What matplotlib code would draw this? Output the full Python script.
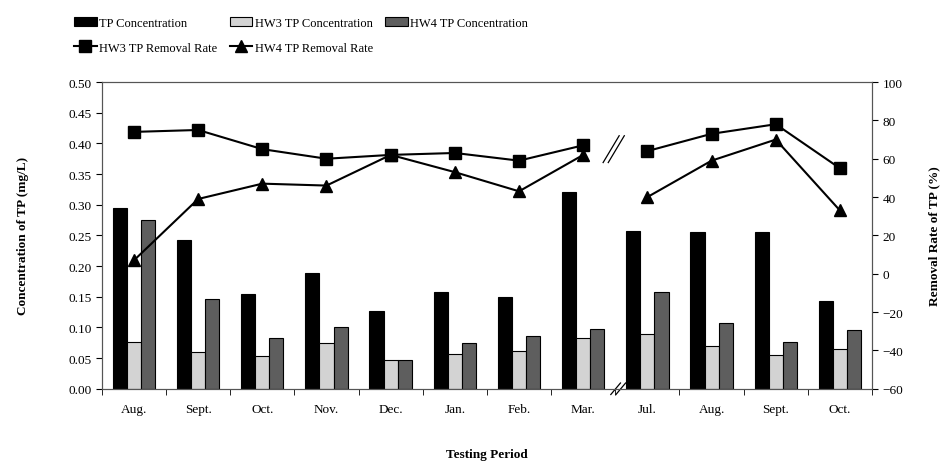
import numpy as np
import matplotlib
matplotlib.use("Agg")
import matplotlib.pyplot as plt

plt.rcParams['font.family'] = ['Liberation Serif', 'DejaVu Serif']

months = ["Aug.", "Sept.", "Oct.", "Nov.", "Dec.", "Jan.", "Feb.", "Mar.",
          "Jul.", "Aug.", "Sept.", "Oct."]
tp_conc = [0.295, 0.242, 0.155, 0.188, 0.127, 0.158, 0.150, 0.320,
           0.258, 0.255, 0.255, 0.143]
hw3_conc = [0.077, 0.060, 0.053, 0.075, 0.047, 0.057, 0.062, 0.083,
            0.090, 0.070, 0.055, 0.065]
hw4_conc = [0.275, 0.146, 0.082, 0.100, 0.047, 0.074, 0.086, 0.097,
            0.157, 0.107, 0.076, 0.095]
hw3_rate = [74, 75, 65, 60, 62, 63, 59, 67, 64, 73, 78, 55]
hw4_rate = [7, 39, 47, 46, 62, 53, 43, 62, 40, 59, 70, 33]

x = np.arange(len(months))
w = 0.22

fig = plt.figure(figsize=(9.52, 4.64), dpi=100)
ax = fig.add_axes([0.107, 0.16, 0.809, 0.661])
ax2 = ax.twinx()

b1 = ax.bar(x - w, tp_conc, w, color="black", edgecolor="black", linewidth=0.8,
            label="TP Concentration")
b2 = ax.bar(x, hw3_conc, w, color="#d3d3d3", edgecolor="black", linewidth=0.8,
            label="HW3 TP Concentration")
b3 = ax.bar(x + w, hw4_conc, w, color="#5e5e5e", edgecolor="black", linewidth=0.8,
            label="HW4 TP Concentration")

# lines are broken between Mar. and Jul.
split = 8
l1, = ax2.plot(x[:split], hw3_rate[:split], color="black", marker="s", ms=8,
               lw=1.5, label="HW3 TP Removal Rate")
ax2.plot(x[split:], hw3_rate[split:], color="black", marker="s", ms=8, lw=1.5)
l2, = ax2.plot(x[:split], hw4_rate[:split], color="black", marker="^", ms=8,
               lw=1.5, label="HW4 TP Removal Rate")
ax2.plot(x[split:], hw4_rate[split:], color="black", marker="^", ms=8, lw=1.5)

ax.set_xlim(-0.5, len(months) - 0.5)
ax.set_ylim(0, 0.5)
ax.set_yticks(np.arange(0, 0.51, 0.05))
ax.set_yticklabels([f"{v:.2f}" for v in np.arange(0, 0.51, 0.05)])
ax2.set_ylim(-60, 100)
ax2.set_yticks(np.arange(-60, 101, 20))

ax.set_xticks(x)
ax.set_xticklabels(months)
ax.set_xticks(np.arange(-0.5, len(months), 1), minor=True)
ax.tick_params(axis="x", which="major", length=0, pad=10, labelsize=9.5)
ax.tick_params(axis="x", which="minor", length=4, direction="out")
ax.tick_params(axis="y", labelsize=9.5, length=4)
ax2.tick_params(axis="y", labelsize=9.5, length=4)

for a in (ax, ax2):
    for s in a.spines.values():
        s.set_color("#555555")
        s.set_linewidth(0.8)

ax.set_ylabel("Concentration of TP (mg/L)", fontweight="bold", fontsize=9.5,
              labelpad=28)
ax2.set_ylabel("Removal Rate of TP (%)", fontweight="bold", fontsize=9.5,
               labelpad=18)
ax.set_xlabel("Testing Period", fontweight="bold", fontsize=9.5, labelpad=24)

# break marks
for dx in (-0.04, 0.04):
    ax2.plot([7.35 + dx, 7.6 + dx], [58, 72], color="black", lw=0.9, clip_on=False)
    ax2.plot([7.47 + dx, 7.62 + dx], [-63, -57], color="black", lw=0.9, clip_on=False)

handles = [b1, l1, b2, l2, b3]
fig.legend(handles=handles, labels=[h.get_label() for h in handles],
           ncol=3, loc="upper left", bbox_to_anchor=(0.066, 0.985), frameon=False,
           fontsize=9, handlelength=1.8, handletextpad=0.2, columnspacing=1.0,
           labelspacing=1.0)

fig.savefig("out.png", dpi=100)
